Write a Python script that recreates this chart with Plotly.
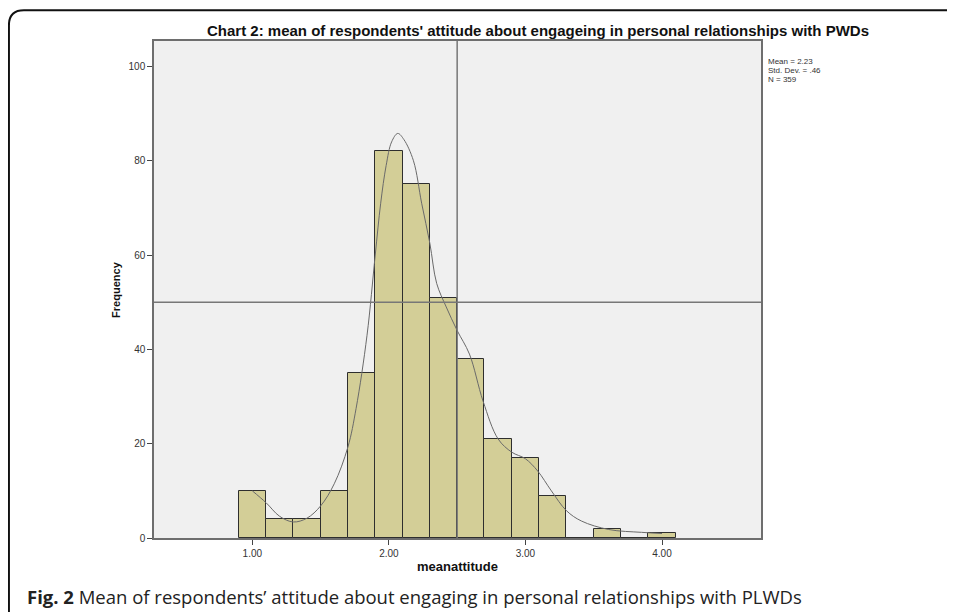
import plotly.graph_objects as go

# ---------------- data ----------------
bin_centers = [1.0, 1.2, 1.4, 1.6, 1.8, 2.0, 2.2, 2.4, 2.6, 2.8, 3.0, 3.2, 3.4, 3.6, 3.8, 4.0]
frequencies = [10, 4, 4, 10, 35, 82, 75, 51, 38, 21, 17, 9, 0, 2, 0, 1]

curve_x = [1.00, 1.10, 1.20, 1.30, 1.40, 1.50, 1.60, 1.70, 1.76, 1.84, 1.90, 1.94, 1.98,
           2.02, 2.065, 2.11, 2.18, 2.24, 2.30, 2.35, 2.42, 2.50, 2.59, 2.69, 2.80,
           2.90, 3.00, 3.09, 3.19, 3.30, 3.41, 3.61, 3.85, 4.00]
curve_y = [10.0, 7.5, 4.6, 3.4, 4.2, 6.8, 11.5, 19.3, 27.5, 43.0, 60.0, 71.0, 79.0,
           84.0, 85.8, 84.5, 80.0, 71.0, 62.5, 54.0, 49.0, 44.0, 39.0, 29.0, 21.0,
           18.2, 16.8, 14.2, 10.0, 5.8, 3.6, 1.8, 1.2, 0.95]

x_tick_vals = [1, 2, 3, 4]
x_tick_text = ["1.00", "2.00", "3.00", "4.00"]
y_tick_vals = [0, 20, 40, 60, 80, 100]
ref_x = 2.5
ref_y = 50

title_text = "Chart 2: mean of respondents' attitude about engageing in personal relationships with PWDs"
stats_lines = ["Mean = 2.23", "Std. Dev. = .46", "N = 359"]
x_title = "meanattitude"
y_title = "Frequency"
caption_bold = "Fig. 2"
caption_rest = " Mean of respondents\u2019 attitude about engaging in personal relationships with PLWDs"

# ---------------- layout geometry (window pixels) ----------------
OFF = 8                      # default body margin of the page
WIN_W, WIN_H = 955, 612
W, H = WIN_W - OFF, WIN_H - OFF
L, R, T, B = 154, 760.7, 40.7, 538.5   # plot area in window pixels


def px(x):
    return (x - L) / (R - L)


def py(y):
    return (B - y) / (B - T)


FONT = "Liberation Sans, Arial, sans-serif"

fig = go.Figure()
fig.add_trace(go.Bar(
    x=bin_centers, y=frequencies, width=0.2,
    marker=dict(color="#d3ce97", line=dict(color="#2e2e2e", width=1)),
    hoverinfo="x+y", showlegend=False,
))
fig.add_trace(go.Scatter(
    x=curve_x, y=curve_y, mode="lines",
    line=dict(color="#6a6a6a", width=1, shape="spline", smoothing=1.0),
    showlegend=False, hoverinfo="skip",
))

axis_common = dict(
    showgrid=False, zeroline=False, showline=True, mirror=True,
    linecolor="#6e6e6e", linewidth=1.5,
    ticks="outside", ticklen=5, tickwidth=1, tickcolor="#444",
    tickfont=dict(family=FONT, size=10, color="#333"),
)

fig.update_layout(
    width=W, height=H,
    margin=dict(l=L - OFF, r=W - (R - OFF), t=T - OFF, b=H - (B - OFF), pad=0),
    paper_bgcolor="white", plot_bgcolor="#f0f0f0",
    bargap=0,
    xaxis=dict(range=[0.28, 4.725], tickvals=x_tick_vals, ticktext=x_tick_text, **axis_common),
    yaxis=dict(range=[0, 105.4], tickvals=y_tick_vals, **axis_common),
)

# reference lines
fig.add_shape(type="line", xref="x", yref="paper", x0=ref_x, x1=ref_x, y0=0, y1=1,
              line=dict(color="#777", width=1.5), layer="above")
fig.add_shape(type="line", xref="paper", yref="y", x0=0, x1=1, y0=ref_y, y1=ref_y,
              line=dict(color="#777", width=1.5), layer="above")

# outer frame with rounded top-left corner
path = (f"M {px(9)} {py(620)} L {px(9)} {py(25)} "
        f"Q {px(9)} {py(10)} {px(24)} {py(10)} L {px(970)} {py(10)}")
fig.add_shape(type="path", xref="paper", yref="paper", path=path,
              line=dict(color="#111", width=2))

# title
fig.add_annotation(xref="paper", yref="paper", x=px(538), y=py(30), text=f"<b>{title_text}</b>",
                   showarrow=False, xanchor="center", yanchor="middle",
                   font=dict(family=FONT, size=15, color="#111"))

# stats box
for i, s in enumerate(stats_lines):
    fig.add_annotation(xref="paper", yref="paper", x=px(766), y=py(61 + 9.2 * i), text=s,
                       showarrow=False, xanchor="left", yanchor="middle",
                       font=dict(family=FONT, size=8, color="#333"))

# axis titles
fig.add_annotation(xref="paper", yref="paper", x=px(457), y=py(567), text=f"<b>{x_title}</b>",
                   showarrow=False, xanchor="center", yanchor="middle",
                   font=dict(family=FONT, size=13, color="#111"))
fig.add_annotation(xref="paper", yref="paper", x=px(116), y=py(289), text=f"<b>{y_title}</b>",
                   showarrow=False, xanchor="center", yanchor="middle", textangle=-90,
                   font=dict(family=FONT, size=11, color="#111"))

# caption
fig.add_annotation(xref="paper", yref="paper", x=px(25), y=py(597),
                   text=f"<b>{caption_bold}</b>{caption_rest}",
                   showarrow=False, xanchor="left", yanchor="middle",
                   font=dict(family="Open Sans, Noto Sans, sans-serif", size=18.5, color="#222"))

fig.write_html("out.html")
